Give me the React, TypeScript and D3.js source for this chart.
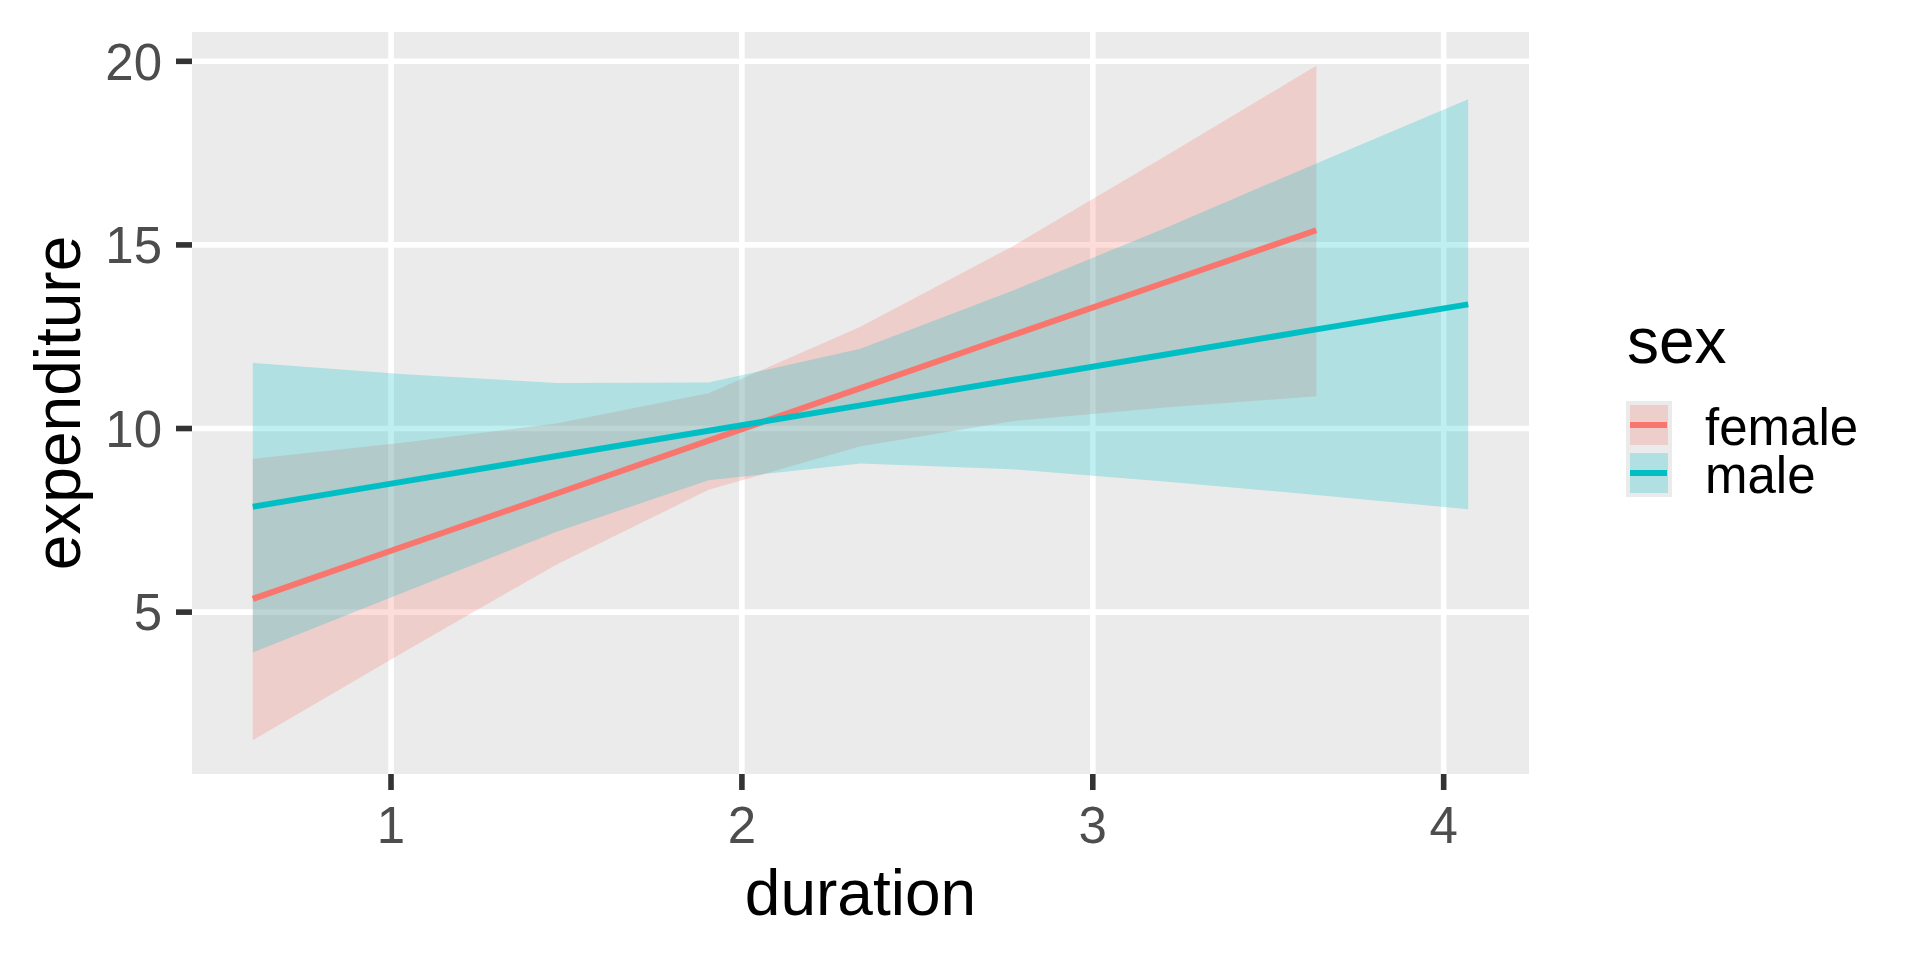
import { useEffect, useRef } from 'react';
import * as d3 from 'd3';

// duration values at which the fits were evaluated
const durationGrid = [0.606, 1.039, 1.472, 1.905, 2.338, 2.771, 3.204, 3.637, 4.07];

const femaleFit = [5.36, 6.80, 8.23, 9.67, 11.10, 12.54, 13.97, 15.40];
const femaleLower = [1.51, 3.93, 6.30, 8.33, 9.52, 10.20, 10.57, 10.88];
const femaleUpper = [9.17, 9.62, 10.14, 10.96, 12.77, 14.96, 17.40, 19.88];

const maleFit = [7.87, 8.56, 9.25, 9.94, 10.63, 11.32, 12.01, 12.70, 13.38];
const maleLower = [3.90, 5.55, 7.19, 8.59, 9.05, 8.89, 8.56, 8.19, 7.80];
const maleUpper = [11.79, 11.48, 11.24, 11.25, 12.17, 13.75, 15.45, 17.22, 18.97];

const sexLevels = ['female', 'male'];
const sexColors = ['#F8766D', '#00BFC4'];

const xTicks = [1, 2, 3, 4];
const yTicks = [5, 10, 15, 20];

const FONT = '"Liberation Sans", Arial, Helvetica, sans-serif';

const App: React.FC = () => {
    const svgRef = useRef<SVGSVGElement>(null);

    useEffect(() => {
        if (!svgRef.current) return;
        d3.select(svgRef.current).selectAll('*').remove();

        const width = 1920;
        const height = 960;
        const panel = { left: 192, right: 1529, top: 32, bottom: 774 };

        const svg = d3.select(svgRef.current)
            .attr('width', width)
            .attr('height', height)
            .style('font-family', FONT);

        svg.append('rect')
            .attr('width', width)
            .attr('height', height)
            .attr('fill', '#ffffff');

        // group data
        const groups = [
            {
                name: sexLevels[0], color: sexColors[0],
                rows: femaleFit.map((f, i) => ({ x: durationGrid[i], fit: f, lo: femaleLower[i], hi: femaleUpper[i] }))
            },
            {
                name: sexLevels[1], color: sexColors[1],
                rows: maleFit.map((f, i) => ({ x: durationGrid[i], fit: f, lo: maleLower[i], hi: maleUpper[i] }))
            }
        ];

        // ggplot style 5% expansion
        const allRows = groups.flatMap(g => g.rows);
        const xExt = d3.extent(allRows, d => d.x) as [number, number];
        const yExt = [d3.min(allRows, d => d.lo)!, d3.max(allRows, d => d.hi)!];
        const xPad = (xExt[1] - xExt[0]) * 0.05;
        const yPad = (yExt[1] - yExt[0]) * 0.05;

        const xScale = d3.scaleLinear()
            .domain([xExt[0] - xPad, xExt[1] + xPad])
            .range([panel.left, panel.right]);
        const yScale = d3.scaleLinear()
            .domain([yExt[0] - yPad, yExt[1] + yPad])
            .range([panel.bottom, panel.top]);

        // panel background
        svg.append('rect')
            .attr('x', panel.left)
            .attr('y', panel.top)
            .attr('width', panel.right - panel.left)
            .attr('height', panel.bottom - panel.top)
            .attr('fill', '#EBEBEB');

        // grid lines
        const grid = svg.append('g');
        xTicks.forEach(t => {
            grid.append('line')
                .attr('x1', xScale(t)).attr('x2', xScale(t))
                .attr('y1', panel.top).attr('y2', panel.bottom)
                .attr('stroke', '#ffffff').attr('stroke-width', 5.6);
        });
        yTicks.forEach(t => {
            grid.append('line')
                .attr('x1', panel.left).attr('x2', panel.right)
                .attr('y1', yScale(t)).attr('y2', yScale(t))
                .attr('stroke', '#ffffff').attr('stroke-width', 5.6);
        });

        // ribbons
        const area = d3.area<{ x: number; lo: number; hi: number }>()
            .x(d => xScale(d.x))
            .y0(d => yScale(d.lo))
            .y1(d => yScale(d.hi));

        groups.forEach(g => {
            svg.append('path')
                .datum(g.rows)
                .attr('d', area)
                .attr('fill', g.color)
                .attr('fill-opacity', 0.25);
        });

        // fitted lines
        const line = d3.line<{ x: number; fit: number }>()
            .x(d => xScale(d.x))
            .y(d => yScale(d.fit));

        groups.forEach(g => {
            svg.append('path')
                .datum(g.rows)
                .attr('d', line)
                .attr('fill', 'none')
                .attr('stroke', g.color)
                .attr('stroke-width', 6);
        });

        // axes: ticks + labels
        const axes = svg.append('g');
        xTicks.forEach(t => {
            axes.append('line')
                .attr('x1', xScale(t)).attr('x2', xScale(t))
                .attr('y1', panel.bottom).attr('y2', panel.bottom + 16)
                .attr('stroke', '#333333').attr('stroke-width', 5.6);
            axes.append('text')
                .attr('x', xScale(t))
                .attr('y', 842.5)
                .attr('text-anchor', 'middle')
                .attr('fill', '#4D4D4D')
                .style('font-size', '51px')
                .text(t);
        });
        yTicks.forEach(t => {
            axes.append('line')
                .attr('x1', panel.left - 16).attr('x2', panel.left)
                .attr('y1', yScale(t)).attr('y2', yScale(t))
                .attr('stroke', '#333333').attr('stroke-width', 5.6);
            axes.append('text')
                .attr('x', 162)
                .attr('y', yScale(t))
                .attr('dy', '0.36em')
                .attr('text-anchor', 'end')
                .attr('fill', '#4D4D4D')
                .style('font-size', '51px')
                .text(t);
        });

        // axis titles
        svg.append('text')
            .attr('x', (panel.left + panel.right) / 2)
            .attr('y', 915)
            .attr('text-anchor', 'middle')
            .attr('fill', '#000000')
            .style('font-size', '64px')
            .text('duration');

        svg.append('text')
            .attr('transform', `translate(80,${(panel.top + panel.bottom) / 2}) rotate(-90)`)
            .attr('text-anchor', 'middle')
            .attr('fill', '#000000')
            .style('font-size', '64px')
            .text('expenditure');

        // legend
        const legend = svg.append('g');
        legend.append('text')
            .attr('x', 1627)
            .attr('y', 363)
            .attr('fill', '#000000')
            .style('font-size', '64px')
            .text('sex');

        const keyX = 1626;
        const keyY = 401;
        const keyW = 46;
        const keyH = 48;
        groups.forEach((g, i) => {
            const y0 = keyY + i * keyH;
            legend.append('rect')
                .attr('x', keyX).attr('y', y0)
                .attr('width', keyW).attr('height', keyH)
                .attr('fill', '#EBEBEB');
            legend.append('rect')
                .attr('x', keyX + 4).attr('y', y0 + 4)
                .attr('width', keyW - 8).attr('height', keyH - 8)
                .attr('fill', g.color)
                .attr('fill-opacity', 0.25);
            legend.append('line')
                .attr('x1', keyX + 4).attr('x2', keyX + keyW - 5)
                .attr('y1', y0 + keyH / 2).attr('y2', y0 + keyH / 2)
                .attr('stroke', g.color)
                .attr('stroke-width', 6);
            legend.append('text')
                .attr('x', 1705)
                .attr('y', y0 + 44)
                .attr('fill', '#000000')
                .style('font-size', '51px')
                .text(g.name);
        });
    }, []);

    return (
        <div style={{ position: 'absolute', left: 0, top: 0, width: 1920, height: 960 }}>
            <svg ref={svgRef} style={{ display: 'block' }}></svg>
        </div>
    );
};

export default App;
